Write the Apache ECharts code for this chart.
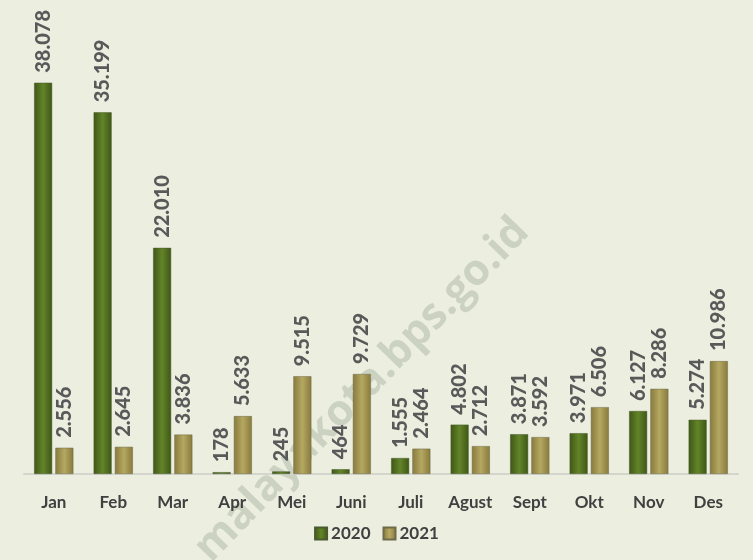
<!DOCTYPE html>
<html><head><meta charset="utf-8">
<script src="https://cdn.jsdelivr.net/npm/echarts@6/dist/echarts.min.js"></script>
<style>html,body{margin:0;padding:0;background:#ECEFE0;}#c{width:753px;height:560px;}</style>
</head><body><div id="c"></div>
<script>
const categories = ['Jan','Feb','Mar','Apr','Mei','Juni','Juli','Agust','Sept','Okt','Nov','Des'];
const values2020 = [38078,35199,22010,178,245,464,1555,4802,3871,3971,6127,5274];
const values2021 = [2556,2645,3836,5633,9515,9729,2464,2712,3592,6506,8286,10986];
const seriesNames = ['2020','2021'];

const fmt = v => String(v).replace(/\B(?=(\d{3})+(?!\d))/g, '.');
const grad = (edge, mid) => new echarts.graphic.LinearGradient(0,0,1,0,[
  {offset:0,color:edge},{offset:0.5,color:mid},{offset:1,color:edge}]);

const chart = echarts.init(document.getElementById('c'));
const labelCfg = {
  show:true, position:'top', rotate:90, align:'left', verticalAlign:'middle',
  distance:10, color:'#595959', fontFamily:'Lato', fontWeight:900, fontSize:20,
  formatter: p => fmt(p.value)
};
chart.setOption({
  backgroundColor:'#ECEFE0',
  animation:false,
  grid:{left:24,right:15,top:63,bottom:86},
  legend:{
    bottom:13, left:'center', itemWidth:12, itemHeight:12, itemGap:12,
    icon:'rect',
    textStyle:{fontFamily:'Lato',fontWeight:'bold',fontSize:17,color:'#404040',padding:[0,0,0,-1]},
    data:seriesNames
  },
  xAxis:{
    type:'category', data:categories,
    axisLine:{lineStyle:{color:'#D4D6CE',width:2}},
    axisTick:{show:false},
    axisLabel:{interval:0,margin:20,fontFamily:'Lato',fontWeight:'bold',fontSize:17,color:'#404040'}
  },
  yAxis:{type:'value',min:0,max:40000,show:false,splitLine:{show:false}},
  series:[
    {name:seriesNames[0],type:'bar',data:values2020,barWidth:18,barGap:'18%',
     itemStyle:{color:grad('#3E5716','#638429'),borderColor:'#4a5a30',borderWidth:0.5},
     label:labelCfg},
    {name:seriesNames[1],type:'bar',data:values2021,barWidth:18,
     itemStyle:{color:grad('#877A3C','#B5A862'),borderColor:'#6f6a4a',borderWidth:0.5},
     label:labelCfg}
  ],
  graphic:[{
    type:'text', x:362, y:390, rotation:Math.PI*0.255,
    style:{text:'malayakota.bps.go.id', fill:'rgba(165,175,155,0.45)',
      font:'bold 43px "Open Sans"', align:'center', verticalAlign:'middle'},
    z:-1
  }]
});
</script></body></html>
